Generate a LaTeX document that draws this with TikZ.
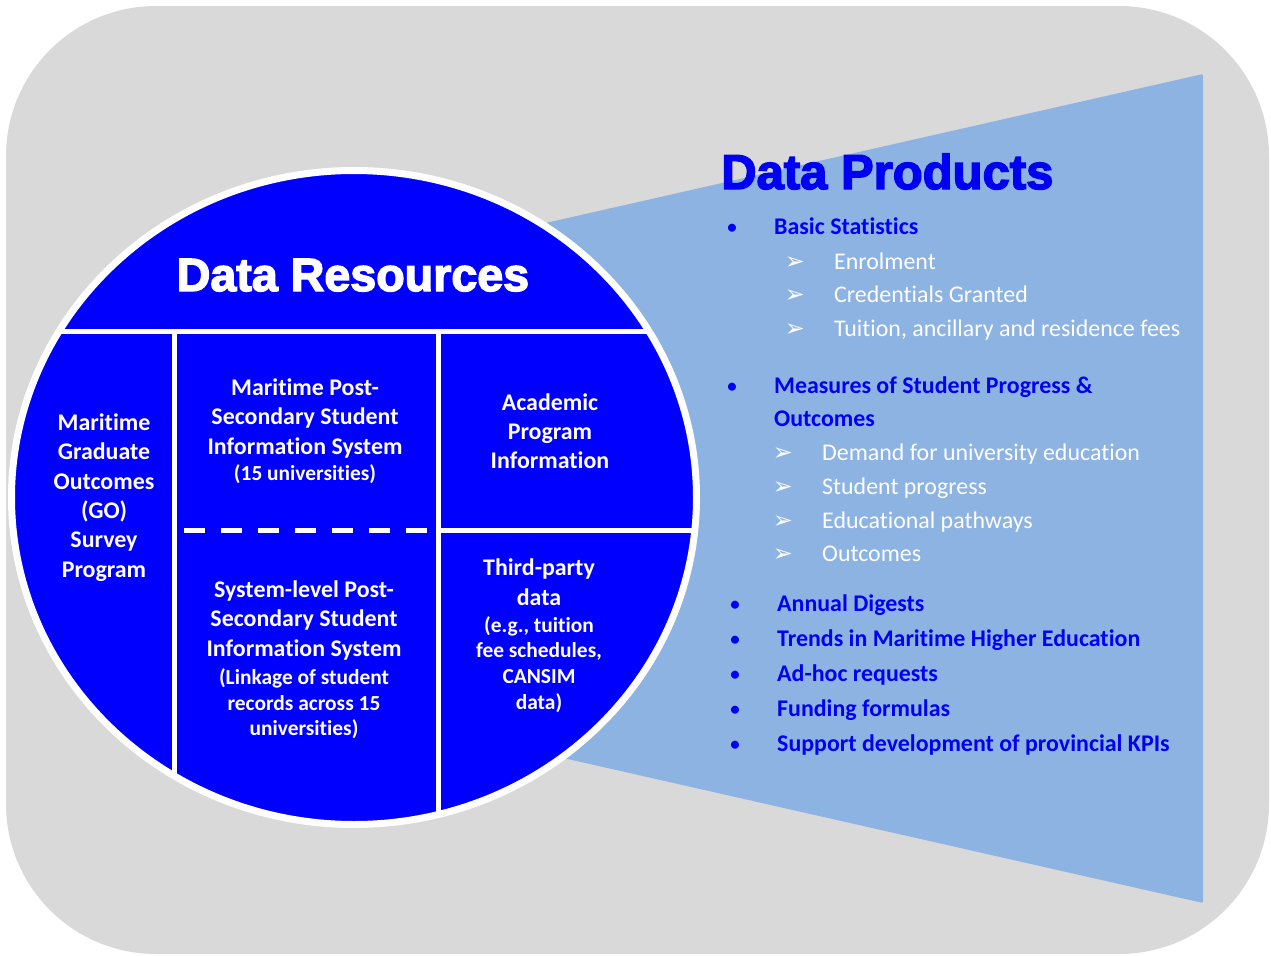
\documentclass[tikz,border=0pt]{standalone}
\usepackage{fontspec}
\setmainfont[Ligatures=NoCommon]{Carlito}
\newfontfamily\headfont[BoldFeatures={FakeBold=3}]{Liberation Sans}
\newfontfamily\dingfont{DejaVu Sans}
\usepackage{tikz}

\definecolor{panelgray}{HTML}{D9D9D9}
\definecolor{funnelblue}{HTML}{8DB3E2}
\definecolor{discblue}{HTML}{0000FF}
\definecolor{listblue}{HTML}{0000F2}

\newcommand{\smallline}[1]{{\fontsize{21.5}{26}\selectfont #1}}

\tikzset{
    divider/.style={white, line width=5bp},
    disctext/.style={text=white, align=center, inner sep=0pt,
        font=\bfseries\fontsize{24}{29.4}\selectfont},
    mainitem/.style={anchor=base west, inner sep=0pt, text=listblue,
        font=\bfseries\fontsize{24}{29}\selectfont},
    subitem/.style={anchor=base west, inner sep=0pt, text=white,
        font=\fontsize{24}{29}\selectfont},
    dotbullet/.style={anchor=base, inner sep=0pt, text=listblue,
        font=\bfseries\fontsize{19}{29}\selectfont},
    arrowbullet/.style={anchor=base, inner sep=0pt, text=white,
        font=\dingfont\fontsize{24}{26}\selectfont}
}

\begin{document}
\begin{tikzpicture}[x=1bp, y=-1bp]
    \useasboundingbox (0,0) rectangle (1271,956);

    % draws background panel and funnel
    \fill[panelgray, rounded corners=150bp] (6,6) rectangle (1269,954);
    \fill[funnelblue, rounded corners=2bp] (400,256) -- (1203,74) -- (1203,903) -- (400,721) -- cycle;

    % draws the disc and its dividers
    \fill[discblue] (354,497.5) ellipse [x radius=342.5, y radius=327];
    \begin{scope}
        \clip (354,497.5) ellipse [x radius=342.5, y radius=327];
        \draw[divider] (0,331) -- (710,331);
        \draw[divider] (174,331) -- (174,840);
        \draw[divider] (438,331) -- (438,840);
        \draw[divider] (438,530) -- (710,530);
        \draw[divider, dash pattern=on 21bp off 16bp] (184,530) -- (432,530);
    \end{scope}
    \draw[white, line width=7bp] (354,497.5) ellipse [x radius=342.5, y radius=327];

    % labels the disc
    \node[anchor=base, inner sep=0pt, text=white, font=\headfont\bfseries\fontsize{46.8}{52}\selectfont]
        (resources) at (353,291) {Data Resources};
    \node[disctext] (survey) at (104,497.5)
        {Maritime\\Graduate\\Outcomes\\(GO)\\Survey\\Program};
    \node[disctext] (mpssis) at (305,431)
        {Maritime Post-\\Secondary Student\\Information System\\[-3.4bp]\smallline{(15 universities)}};
    \node[disctext] (academic) at (550,431)
        {Academic\\Program\\Information};
    \node[disctext] (syslevel) at (304,660)
        {System-level Post-\\Secondary Student\\Information System\\[-1.4bp]\smallline{(Linkage of student}\\[-3.4bp]\smallline{records across 15}\\[-3.4bp]\smallline{universities)}};
    \node[disctext] (thirdparty) at (539,636)
        {Third-party\\data\\[-2.4bp]\smallline{(e.g., tuition}\\[-3.4bp]\smallline{fee schedules,}\\[-3.4bp]\smallline{CANSIM}\\[-3.4bp]\smallline{data)}};

    % labels the products
    \node[anchor=base west, inner sep=0pt, text=listblue, font=\headfont\bfseries\fontsize{49.2}{54}\selectfont]
        (products) at (721,189) {Data Products};

    \node[dotbullet] (dot1) at (732,233) {•};
    \node[mainitem] (basic) at (774,234) {Basic Statistics};
    \node[arrowbullet] (arr1) at (795,269) {➢};
    \node[subitem] (enrol) at (834,269) {Enrolment};
    \node[arrowbullet] (arr2) at (795,302) {➢};
    \node[subitem] (cred) at (834,302) {Credentials Granted};
    \node[arrowbullet] (arr3) at (795,336) {➢};
    \node[subitem] (fees) at (834,336) {Tuition, ancillary and residence fees};

    \node[dotbullet] (dot2) at (732,392) {•};
    \node[mainitem] (measures) at (774,393) {Measures of Student Progress \&};
    \node[mainitem] (measures2) at (774,426) {Outcomes};
    \node[arrowbullet] (arr4) at (783,460) {➢};
    \node[subitem] (demand) at (822,460) {Demand for university education};
    \node[arrowbullet] (arr5) at (783,494) {➢};
    \node[subitem] (progress) at (822,494) {Student progress};
    \node[arrowbullet] (arr6) at (783,528) {➢};
    \node[subitem] (pathways) at (822,528) {Educational pathways};
    \node[arrowbullet] (arr7) at (783,561) {➢};
    \node[subitem] (outcomes) at (822,561) {Outcomes};

    \node[dotbullet] (dot3) at (735,610) {•};
    \node[mainitem] (digests) at (777,611) {Annual Digests};
    \node[dotbullet] (dot4) at (735,645) {•};
    \node[mainitem] (trends) at (777,646) {Trends in Maritime Higher Education};
    \node[dotbullet] (dot5) at (735,680) {•};
    \node[mainitem] (adhoc) at (777,681) {Ad-hoc requests};
    \node[dotbullet] (dot6) at (735,715) {•};
    \node[mainitem] (funding) at (777,716) {Funding formulas};
    \node[dotbullet] (dot7) at (735,750) {•};
    \node[mainitem] (kpis) at (777,751) {Support development of provincial KPIs};
\end{tikzpicture}
\end{document}
